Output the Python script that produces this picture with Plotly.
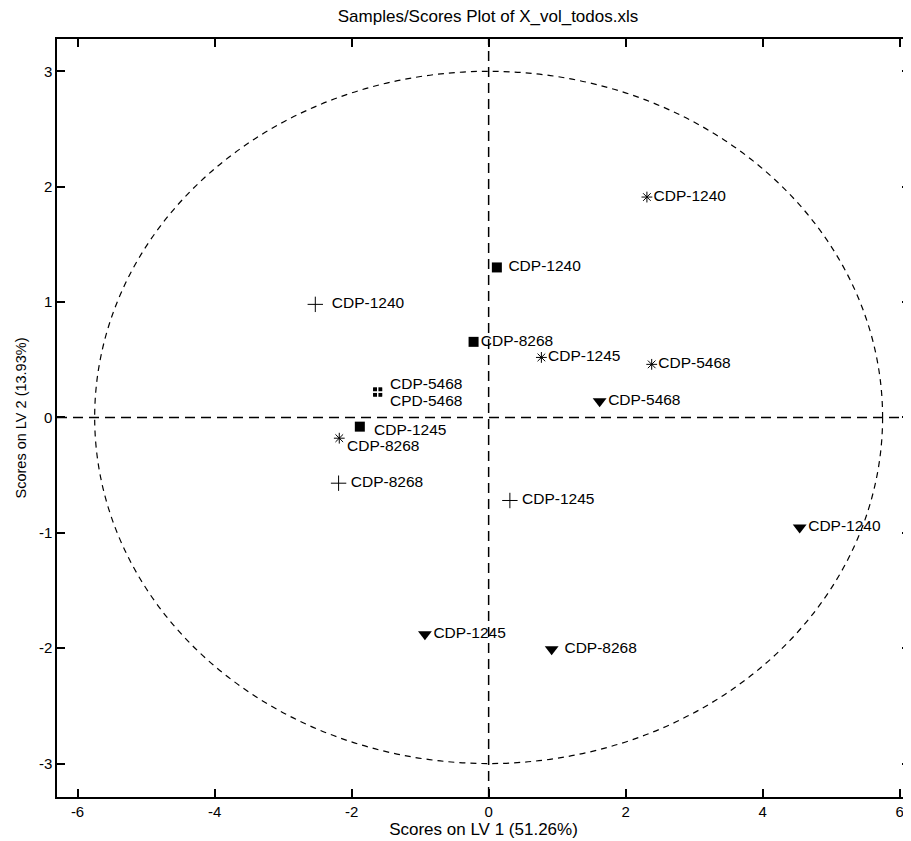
import plotly.graph_objects as go

# Scores on LV1 / LV2 by marker group
plus_labels = ["CDP-1240", "CDP-8268", "CDP-1245"]
plus_x = [-2.53, -2.19, 0.31]
plus_y = [0.98, -0.57, -0.72]

star_labels = ["CDP-1240", "CDP-1245", "CDP-5468", "CDP-8268"]
star_x = [2.31, 0.77, 2.38, -2.18]
star_y = [1.91, 0.52, 0.46, -0.18]

square_labels = ["CDP-1240", "CDP-8268", "CDP-1245"]
square_x = [0.12, -0.22, -1.88]
square_y = [1.30, 0.655, -0.08]

tri_labels = ["CDP-5468", "CDP-1240", "CDP-1245", "CDP-8268"]
tri_x = [1.62, 4.54, -0.93, 0.92]
tri_y = [0.14, -0.955, -1.88, -2.01]

grid_labels = ["CDP-5468", "CPD-5468"]
grid_x = [-1.62, -1.62]
grid_y = [0.22, 0.22]

x_tick_vals = [-6, -4, -2, 0, 2, 4, 6]
x_tick_text = ["-6", "-4", "-2", "0", "2", "4", "6"]
y_tick_vals = [-3, -2, -1, 0, 1, 2, 3]
y_tick_text = ["-3", "-2", "-1", "0", "1", "2", "3"]

ellipse_ax = 5.75
ellipse_ay = 3.0

FAM = "Liberation Sans, Arial, sans-serif"
lab_font = dict(family=FAM, size=15.5, color="black")
tick_font = dict(family=FAM, size=15, color="black")

# page body has an 8px default margin -> compensate in figure size/margins
W, H = 903, 833

fig = go.Figure()

fig.add_shape(type="circle", xref="x", yref="y",
              x0=-ellipse_ax, x1=ellipse_ax, y0=-ellipse_ay, y1=ellipse_ay,
              line=dict(color="black", width=1.2, dash="6px,5px"), layer="below")
fig.add_shape(type="line", xref="x", yref="paper", x0=0, x1=0, y0=0, y1=1,
              line=dict(color="black", width=1.5, dash="10px,6px"), layer="below")
fig.add_shape(type="line", xref="paper", yref="y", x0=0, x1=1, y0=0, y1=0,
              line=dict(color="black", width=1.5, dash="10px,6px"), layer="below")

fig.add_trace(go.Scatter(
    x=plus_x, y=plus_y, text=["  " + plus_labels[0], " " + plus_labels[1], " " + plus_labels[2]],
    mode="markers+text", textposition="middle right", textfont=lab_font,
    marker=dict(symbol="cross-thin-open", size=11, color="black", line=dict(width=1, color="black"))))

# star: last label placed as annotation (tight pair with square CDP-1245)
fig.add_trace(go.Scatter(
    x=star_x, y=star_y, text=star_labels[:3] + [""], mode="markers+text",
    textposition="middle right", textfont=lab_font,
    marker=dict(symbol="asterisk-open", size=9, color="black", line=dict(width=1, color="black"))))

fig.add_trace(go.Scatter(
    x=square_x, y=square_y, text=[" " + square_labels[0], square_labels[1], ""],
    mode="markers+text", textposition="middle right", textfont=lab_font,
    marker=dict(symbol="square", size=10, color="black")))

fig.add_trace(go.Scatter(
    x=tri_x, y=tri_y, text=[tri_labels[0], tri_labels[1], tri_labels[2], " " + tri_labels[3]],
    mode="markers+text", textposition="middle right", textfont=lab_font,
    marker=dict(symbol="triangle-down", size=12, color="black")))

fig.add_trace(go.Scatter(
    x=grid_x, y=grid_y, mode="markers",
    marker=dict(symbol="square", size=9, color="black")))
fig.add_trace(go.Scatter(
    x=grid_x, y=grid_y, mode="markers", hoverinfo="skip",
    marker=dict(symbol="cross-thin-open", size=9, color="white", line=dict(width=1.2, color="white"))))

for lbl, gx, gy, ys in zip(grid_labels, grid_x, grid_y, [8.5, -8.5]):
    fig.add_annotation(x=gx, y=gy, text=lbl, showarrow=False, xanchor="left", yanchor="middle",
                       xshift=10, yshift=ys, font=lab_font)

fig.add_annotation(x=square_x[2], y=square_y[2], text=square_labels[2], showarrow=False,
                   xanchor="left", yanchor="middle", xshift=12, yshift=-3, font=lab_font)
fig.add_annotation(x=star_x[3], y=star_y[3], text=star_labels[3], showarrow=False,
                   xanchor="left", yanchor="middle", xshift=6, yshift=-7, font=lab_font)

axis_common = dict(showline=True, linecolor="black", linewidth=1.5, mirror="ticks",
                   ticks="inside", ticklen=8, tickwidth=1.5, tickcolor="black",
                   showgrid=False, zeroline=False, tickfont=tick_font, automargin=False,
                   tickmode="array")

fig.update_layout(
    width=W, height=H,
    paper_bgcolor="white", plot_bgcolor="white",
    showlegend=False,
    margin=dict(l=49, r=1, t=31, b=44),
    title=dict(text="Samples/Scores Plot of X_vol_todos.xls", font=dict(family=FAM, size=17, color="black"),
               x=480 / W, xanchor="center", y=1 - 2 / H, yanchor="top"),
    xaxis=dict(range=[-6.3, 6.15], tickvals=x_tick_vals, ticktext=x_tick_text,
               title=dict(text="Scores on LV 1 (51.26%)", font=dict(family=FAM, size=17, color="black"), standoff=2),
               **axis_common),
    yaxis=dict(range=[-3.29, 3.28], tickvals=y_tick_vals, ticktext=y_tick_text,
               title=dict(text="Scores on LV 2 (13.93%)", font=dict(family=FAM, size=14.5, color="black"), standoff=9),
               **axis_common),
)

fig.write_html("out.html")
